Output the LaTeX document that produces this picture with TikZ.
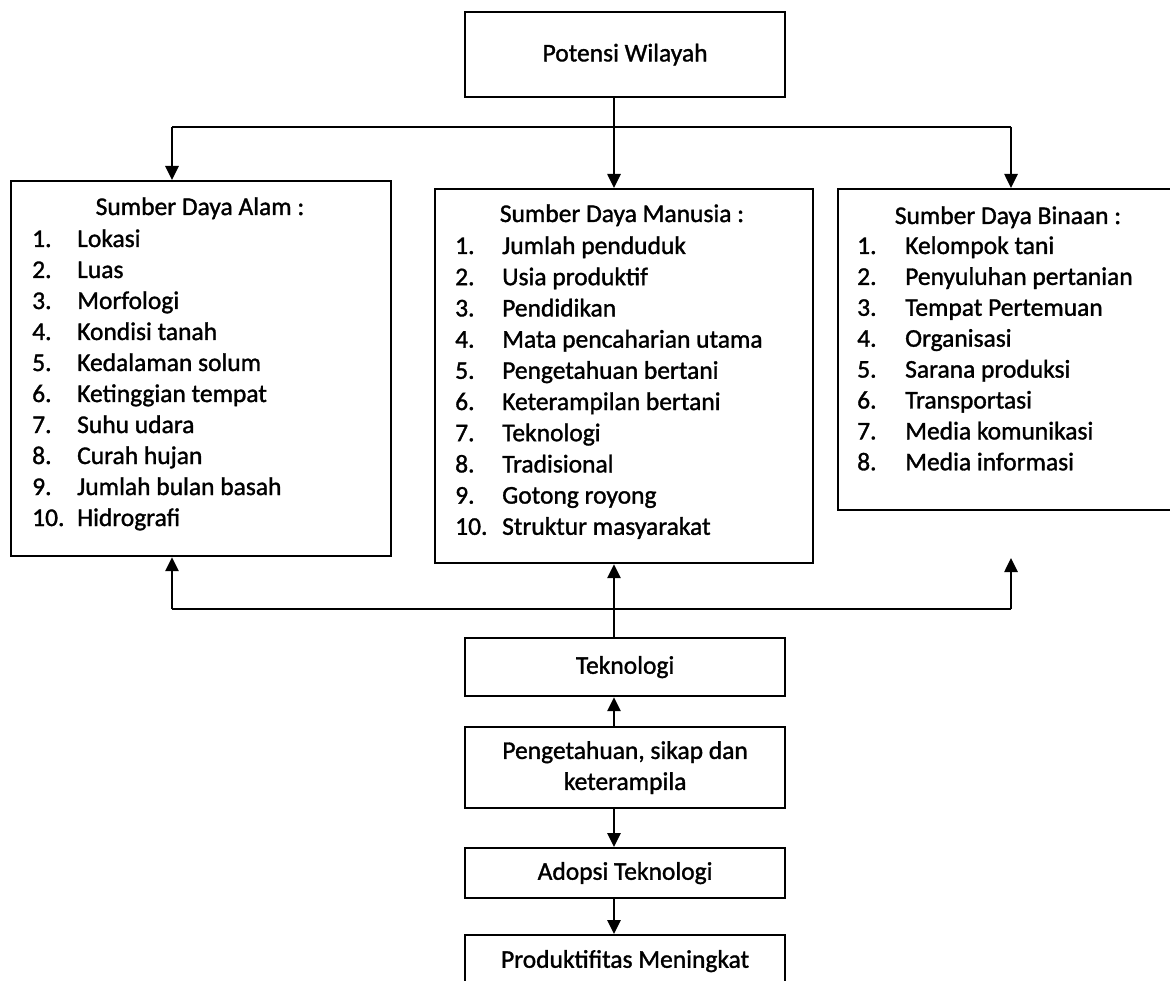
\documentclass[tikz,border=0pt]{standalone}
\usepackage{fontspec}
\setmainfont{Carlito}
\newfontfamily\heavyfont{Carlito}[FakeBold=1.3]
\usetikzlibrary{arrows.meta}
\begin{document}
\begin{tikzpicture}[x=1pt,y=-1pt,
  box/.style={draw,line width=2.2pt,inner sep=0pt,font=\heavyfont\fontsize{25.5}{31}\selectfont,align=center},
  conn/.style={line width=2.6pt},
  arr/.style={conn,-{Triangle[length=14pt,width=13pt]}},
  txt/.style={inner sep=0pt,font=\heavyfont\fontsize{25.5}{31}\selectfont},
]
\useasboundingbox (0,0) rectangle (1170,981);
\fill[white] (0,0) rectangle (1170,981);

% top box
\node[box, minimum width=320pt, minimum height=85pt, anchor=north west] (pot) at (464,11) {Potensi Wilayah};

% three resource boxes
\node[box, minimum width=380pt, minimum height=375pt, anchor=north west] (sda) at (10,180) {};
\node[box, minimum width=378pt, minimum height=374pt, anchor=north west] (sdm) at (434,188) {};
\node[box, minimum width=340pt, minimum height=321pt, anchor=north west] (sdb) at (837,188) {};

% headings
\node[txt, anchor=base] (sdaH) at (200,215) {Sumber Daya Alam :};
\node[txt, anchor=base] (sdmH) at (622,222) {Sumber Daya Manusia :};
\node[txt, anchor=base] (sdbH) at (1008,224) {Sumber Daya Binaan :};

% lists
\foreach \t [count=\i] in {Lokasi, Luas, Morfologi, Kondisi tanah, Kedalaman solum, Ketinggian tempat, Suhu udara, Curah hujan, Jumlah bulan basah, Hidrografi} {
  \node[txt, anchor=base west] (sdaN\i) at (32,{247+31*(\i-1)}) {\i.};
  \node[txt, anchor=base west] (sdaI\i) at (77,{247+31*(\i-1)}) {\t};
}
\foreach \t [count=\i] in {Jumlah penduduk, Usia produktif, Pendidikan, Mata pencaharian utama, Pengetahuan bertani, Keterampilan bertani, Teknologi, Tradisional, Gotong royong, Struktur masyarakat} {
  \node[txt, anchor=base west] (sdmN\i) at (455,{254+31.2*(\i-1)}) {\i.};
  \node[txt, anchor=base west] (sdmI\i) at (502,{254+31.2*(\i-1)}) {\t};
}
\foreach \t [count=\i] in {Kelompok tani, Penyuluhan pertanian, Tempat Pertemuan, Organisasi, Sarana produksi, Transportasi, Media komunikasi, Media informasi} {
  \node[txt, anchor=base west] (sdbN\i) at (857,{254+30.9*(\i-1)}) {\i.};
  \node[txt, anchor=base west] (sdbI\i) at (905,{254+30.9*(\i-1)}) {\t};
}

% lower chain
\node[box, minimum width=320pt, minimum height=58pt, anchor=north west] (tek) at (464,637) {Teknologi};
\node[box, minimum width=320pt, minimum height=81pt, anchor=north west] (pk) at (464,726) {Pengetahuan, sikap dan\\keterampila};
\node[box, minimum width=320pt, minimum height=50pt, anchor=north west] (ad) at (464,847) {Adopsi Teknologi};
\node[box, minimum width=320pt, minimum height=52pt, anchor=north west] (prod) at (464,934) {Produktifitas Meningkat};

% connector coordinates
\coordinate (spine) at (614,0);
\coordinate (tl) at (172,127);
\coordinate (tm) at (614,127);
\coordinate (tr) at (1011,127);
\coordinate (bl) at (172,609);
\coordinate (bm) at (614,609);
\coordinate (br) at (1011,609);
\coordinate (brtip) at (1011,558);

% top connectors
\draw[arr] (pot.south -| spine) -- (sdm.north -| spine);
\draw[conn] (tl) -- (tr);
\draw[arr] (tl) -- (tl |- sda.north);
\draw[arr] (tr) -- (tr |- sdb.north);

% bottom connectors
\draw[conn] (bl) -- (br);
\draw[arr] (bl) -- (bl |- sda.south);
\draw[arr] (br) -- (brtip);
\draw[arr] (tek.north -| spine) -- (sdm.south -| spine);

% chain connectors
\draw[arr] (pk.north -| spine) -- (tek.south -| spine);
\draw[arr] (pk.south -| spine) -- (ad.north -| spine);
\draw[arr] (ad.south -| spine) -- (prod.north -| spine);
\end{tikzpicture}
\end{document}
